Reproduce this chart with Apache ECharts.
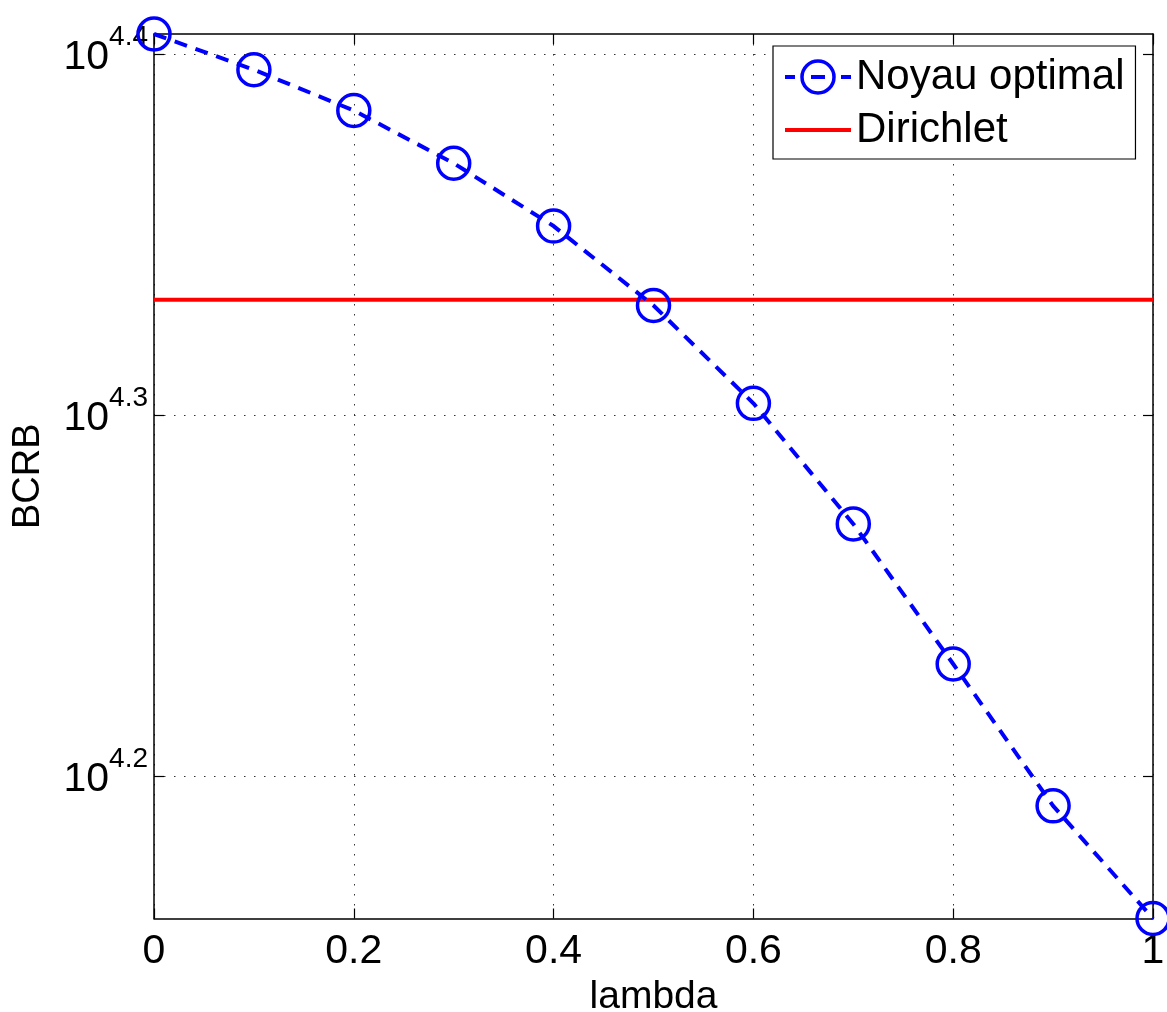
<!DOCTYPE html>
<html>
<head>
<meta charset="utf-8">
<script src="https://cdn.jsdelivr.net/npm/echarts@6/dist/echarts.min.js"></script>
<style>
html,body{margin:0;padding:0;background:#fff;}
#chart{width:1167px;height:1012px;}
</style>
</head>
<body>
<div id="chart"></div>
<script>
// lambda values (x)
const lambdaValues = [0, 0.1, 0.2, 0.3, 0.4, 0.5, 0.6, 0.7, 0.8, 0.9, 1.0];
// log10(BCRB) for "Noyau optimal"
const noyauLog10 = [4.4057, 4.3958, 4.3845, 4.3699, 4.3525, 4.3305, 4.3034, 4.2700, 4.2312, 4.1919, 4.1607];
// log10(BCRB) for "Dirichlet" (constant)
const dirichletLog10 = 4.3321;
// tick labels
const xTicks = [0, 0.2, 0.4, 0.6, 0.8, 1];
const yTickExponents = [4.2, 4.3, 4.4];
const seriesNames = ['Noyau optimal', 'Dirichlet'];

const FONT = '"Liberation Sans", Arial, Helvetica, sans-serif';
const yMin = Math.min(...noyauLog10);
const yMax = Math.max(...noyauLog10);

const chart = echarts.init(document.getElementById('chart'), null, {renderer: 'canvas'});

const gridLine = {show: true, lineStyle: {color: '#333', width: 1, type: [1.5, 8.5]}};
const axisLine = {show: true, onZero: false, lineStyle: {color: '#000', width: 1.5}};
const axisTick = {show: true, inside: true, length: 10, lineStyle: {color: '#000', width: 1.2}};

chart.setOption({
  backgroundColor: '#fff',
  animation: false,
  grid: {left: 154, right: 14, top: 34, bottom: 93.5, containLabel: false, outerBoundsMode: 'none'},
  legend: {
    orient: 'vertical',
    left: 773, top: 46,
    padding: [7, 11, 5, 10],
    backgroundColor: '#fff',
    borderColor: '#000', borderWidth: 1.2,
    itemWidth: 66, itemHeight: 40, itemGap: 5,
    textStyle: {fontFamily: FONT, fontSize: 42, color: '#000', lineHeight: 48},
    data: [
      {name: seriesNames[0],
       lineStyle: {width: 4, color: '#0000ff', type: [10, 16, 14, 16, 10, 100]},
       itemStyle: {color: 'rgba(255,255,255,0)', borderColor: '#0000ff', borderWidth: 3.5}},
      {name: seriesNames[1],
       lineStyle: {width: 4, color: '#ff0000', type: 'solid'},
       itemStyle: {opacity: 0}}
    ]
  },
  xAxis: [{
    type: 'value', min: 0, max: 1, interval: 0.2,
    name: 'lambda', nameLocation: 'middle', nameGap: 52,
    nameTextStyle: {fontFamily: FONT, fontSize: 39, color: '#000'},
    axisLine: axisLine, axisTick: axisTick, splitLine: gridLine,
    axisLabel: {show: true, margin: 13, fontFamily: FONT, fontSize: 41, color: '#000',
      formatter: v => String(+v.toFixed(1)), customValues: xTicks},
  }, {
    type: 'value', min: 0, max: 1, interval: 0.2, position: 'top',
    axisLine: axisLine, axisTick: axisTick, splitLine: {show: false},
    axisLabel: {show: false}
  }],
  yAxis: [{
    type: 'value', min: yMin, max: yMax,
    name: 'BCRB', nameLocation: 'middle', nameGap: 106, nameRotate: 90,
    nameTextStyle: {fontFamily: FONT, fontSize: 38, color: '#000'},
    axisLine: axisLine,
    axisTick: Object.assign({}, axisTick, {customValues: yTickExponents}),
    splitLine: gridLine,
    axisLabel: {
      show: true, margin: 6, customValues: yTickExponents,
      formatter: v => '{b|10}{e|' + v.toFixed(1) + '}',
      rich: {
        b: {fontFamily: FONT, fontSize: 41, lineHeight: 41, color: '#000', padding: [6, 0, 0, 0]},
        e: {fontFamily: FONT, fontSize: 28, lineHeight: 28, color: '#000', padding: [0, 0, 34, 0]}
      }
    }
  }, {
    type: 'value', min: yMin, max: yMax, position: 'right',
    axisLine: axisLine,
    axisTick: Object.assign({}, axisTick, {customValues: yTickExponents}),
    splitLine: {show: false}, axisLabel: {show: false}
  }],
  series: [{
    name: seriesNames[0], type: 'line', clip: false,
    data: lambdaValues.map((x, i) => [x, noyauLog10[i]]),
    symbol: 'circle', symbolSize: 32, showAllSymbol: true,
    lineStyle: {color: '#0000ff', width: 4, type: [13, 9]},
    itemStyle: {color: 'rgba(255,255,255,0)', borderColor: '#0000ff', borderWidth: 3.5},
    z: 3
  }, {
    name: seriesNames[1], type: 'line', clip: false,
    data: [[lambdaValues[0], dirichletLog10], [lambdaValues[lambdaValues.length - 1], dirichletLog10]],
    showSymbol: false, symbol: 'none',
    lineStyle: {color: '#ff0000', width: 4},
    itemStyle: {color: '#ff0000'},
    z: 2
  }]
});
</script>
</body>
</html>
